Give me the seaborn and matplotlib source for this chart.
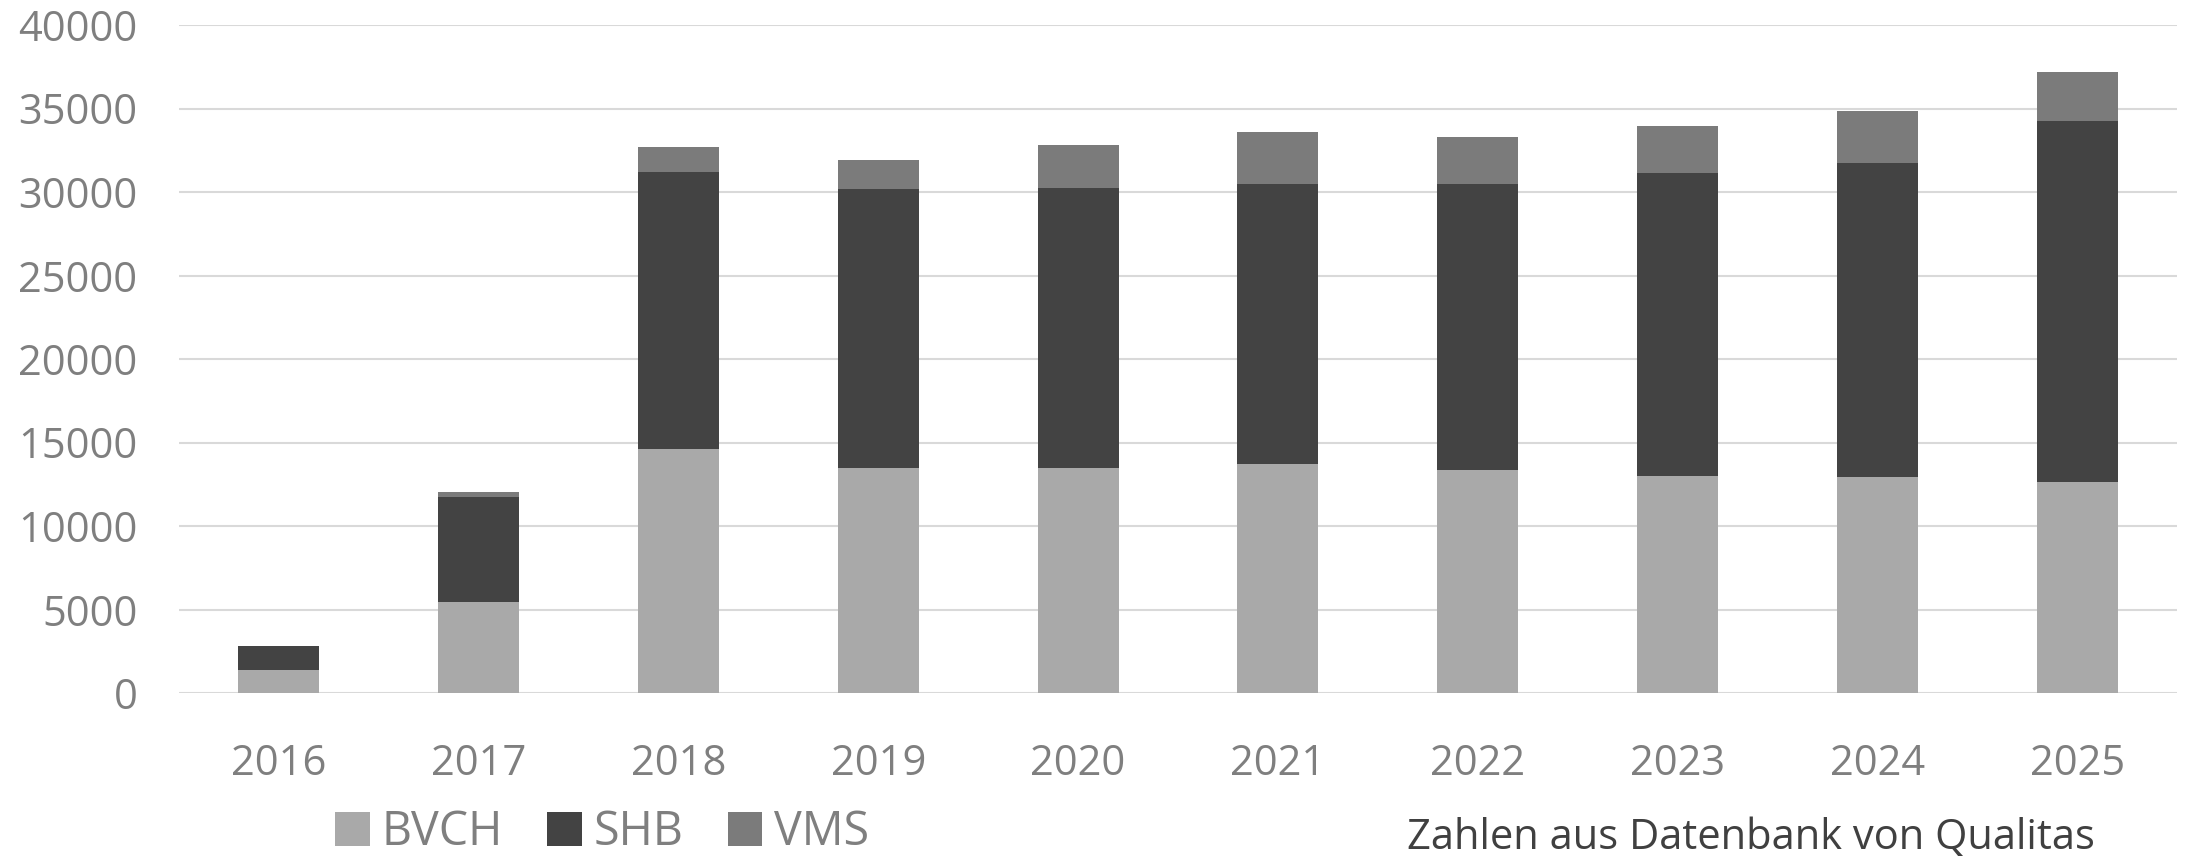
import numpy as np
import pandas as pd
import matplotlib
matplotlib.use("Agg")
import matplotlib.pyplot as plt
from matplotlib.patches import Patch
import seaborn as sns

years = ["2016", "2017", "2018", "2019", "2020", "2021", "2022", "2023", "2024", "2025"]
bvch = [1400, 5470, 14630, 13490, 13490, 13730, 13370, 13010, 12950, 12650]
shb = [1440, 6290, 16570, 16690, 16750, 16750, 17110, 18130, 18780, 21600]
vms = [0, 260, 1500, 1740, 2570, 3110, 2810, 2810, 3110, 2930]

colors = {"BVCH": "#A9A9A9", "SHB": "#434343", "VMS": "#7B7B7B"}
text_gray = "#7F7F7F"

df = pd.DataFrame({"Jahr": years, "BVCH": bvch, "SHB": shb, "VMS": vms})
df["bvch_shb"] = df["BVCH"] + df["SHB"]
df["total"] = df["bvch_shb"] + df["VMS"]

sns.set_style("white")
plt.rcParams["font.family"] = ["Open Sans", "DejaVu Sans"]

fig = plt.figure(figsize=(21.9, 8.59), dpi=100)
ax = fig.add_axes([179 / 2190, 1 - 693 / 859, (2177 - 179) / 2190, (693 - 25) / 859])

# stacked bars: draw totals first, then overlay lower segments
bar_kw = dict(width=0.405, saturation=1, ax=ax, zorder=3, linewidth=0, edgecolor="none")
sns.barplot(data=df, x="Jahr", y="total", color=colors["VMS"], **bar_kw)
sns.barplot(data=df, x="Jahr", y="bvch_shb", color=colors["SHB"], **bar_kw)
sns.barplot(data=df, x="Jahr", y="BVCH", color=colors["BVCH"], **bar_kw)

ax.set_ylim(0, 40000)
ax.set_xlim(-0.5, len(years) - 0.5)
ax.set_yticks(np.arange(0, 40001, 5000))
ax.yaxis.grid(True, color="#D9D9D9", linewidth=1.5, zorder=0)
ax.set_axisbelow(True)
ax.set_xlabel("")
ax.set_ylabel("")
for s in ax.spines.values():
    s.set_visible(False)
ax.tick_params(axis="both", length=0, labelsize=30, labelcolor=text_gray)
ax.tick_params(axis="x", pad=36)
ax.tick_params(axis="y", pad=30)

handles = [Patch(facecolor=colors[k], edgecolor="none", label=k) for k in ["BVCH", "SHB", "VMS"]]
fig.legend(handles=handles, loc="lower left", bbox_to_anchor=(293 / 2190, -0.045),
           ncol=3, frameon=False, fontsize=33.5, labelcolor=text_gray,
           handlelength=0.75, handleheight=0.75, handletextpad=0.25, columnspacing=0.95)

fig.text(2095 / 2190, 0.0, "Zahlen aus Datenbank von Qualitas", ha="right", va="bottom",
         fontsize=30, color="#404040")

fig.savefig("out.png", dpi=100, facecolor="white")
